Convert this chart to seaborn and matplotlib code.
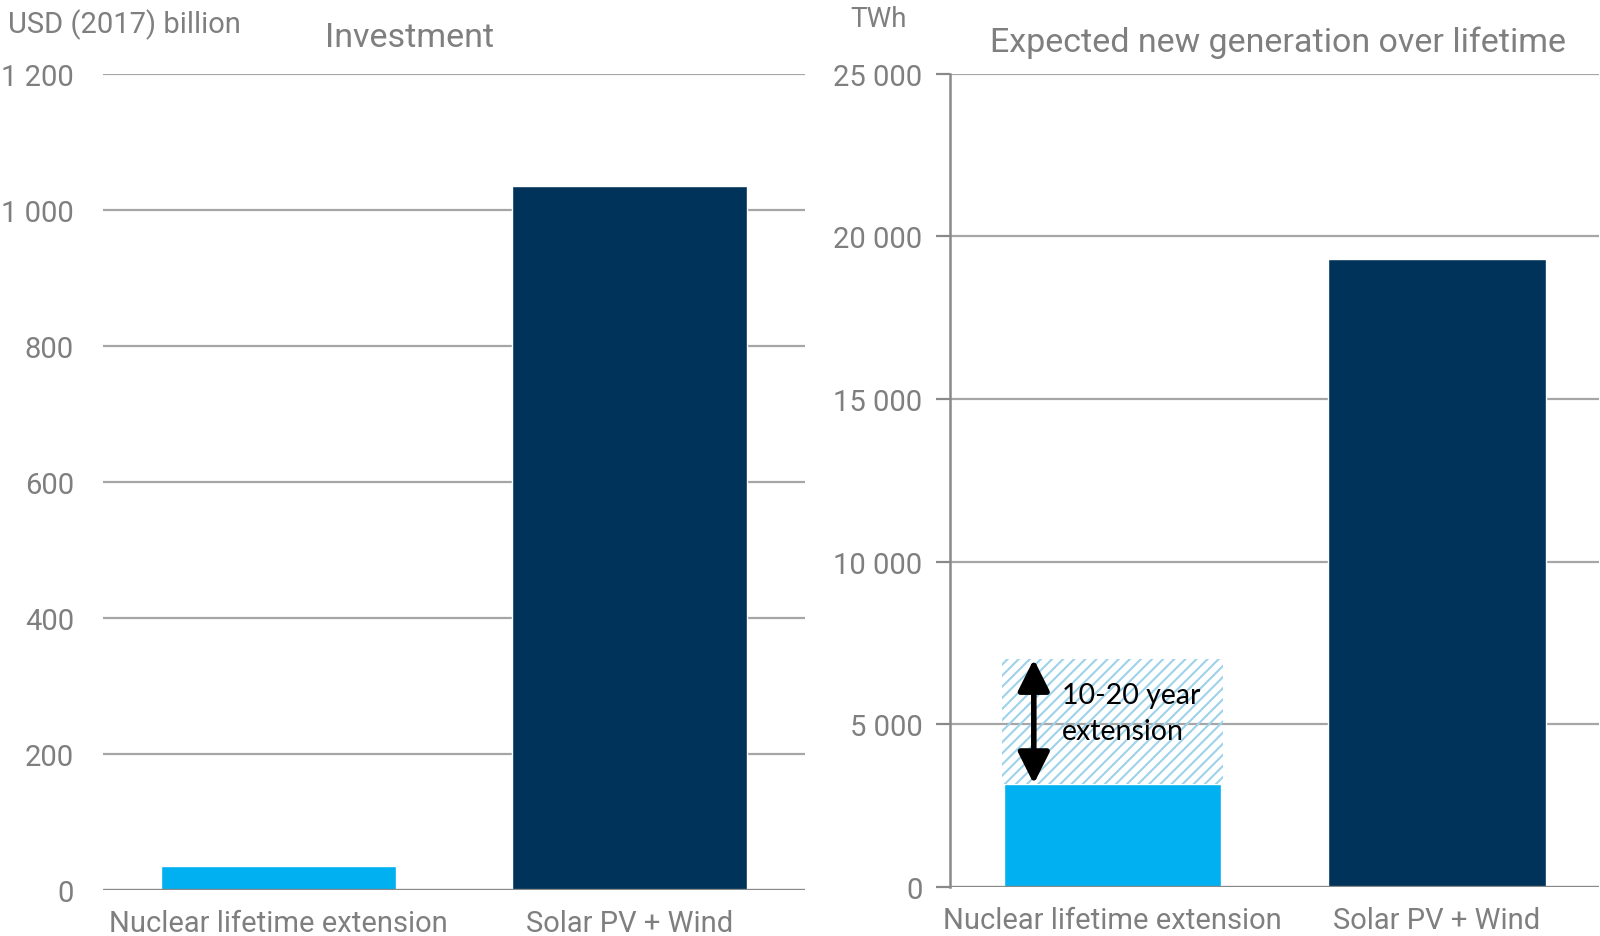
import matplotlib
matplotlib.use("Agg")
import matplotlib.pyplot as plt
import seaborn as sns
import pandas as pd
from matplotlib import font_manager

# --- data -------------------------------------------------------------
categories = ["Nuclear lifetime extension", "Solar PV + Wind"]
investment = [35, 1035]            # USD (2017) billion
generation = [3170, 19300]         # TWh, expected new generation over lifetime
extension_top = 7000               # TWh, upper end of a 10-20 year nuclear extension

inv_ticks = [0, 200, 400, 600, 800, 1000, 1200]
inv_tick_labels = ["0", "200", "400", "600", "800", "1 000", "1 200"]
gen_ticks = [0, 5000, 10000, 15000, 20000, 25000]
gen_tick_labels = ["0", "5 000", "10 000", "15 000", "20 000", "25 000"]

bar_colors = ["#00B0F0", "#003359"]
hatch_color = "#9DD2EA"
text_gray = "#7F7F7F"
grid_gray = "#A6A6A6"
axis_gray = "#898989"

sns.set_theme(style="white")
installed = {f.name for f in font_manager.fontManager.ttflist}
narrow = "Liberation Sans Narrow" if "Liberation Sans Narrow" in installed else "Roboto"
plt.rcParams["font.family"] = [narrow, "DejaVu Sans"]
plt.rcParams["hatch.linewidth"] = 1.5
plt.rcParams["hatch.color"] = hatch_color

fig = plt.figure(figsize=(16, 9.37), dpi=100)
ax1 = fig.add_axes([0.0644, 0.0491, 0.439, 0.871])
ax2 = fig.add_axes([0.594, 0.0523, 0.4056, 0.868])

df_inv = pd.DataFrame({"cat": categories, "val": investment})
df_gen = pd.DataFrame({"cat": categories, "val": generation})


def style_axis(ax, ticks, labels, ymax, show_spine, pad):
    ax.set_ylim(0, ymax)
    ax.set_xlim(-0.5, 1.5)
    ax.set_yticks(ticks)
    ax.set_yticklabels(labels)
    for t in ticks[1:]:
        ax.axhline(t, color=grid_gray, lw=1.6, zorder=0)
    ax.axhline(0, color=axis_gray, lw=2.4, zorder=3)
    for s in ["top", "right", "bottom"]:
        ax.spines[s].set_visible(False)
    ax.spines["left"].set_visible(show_spine)
    ax.spines["left"].set_color(axis_gray)
    ax.spines["left"].set_linewidth(1.8)
    ax.tick_params(axis="y", labelsize=21, colors=axis_gray, labelcolor=text_gray, pad=pad,
                   length=10 if show_spine else 0, width=1.6, left=True, direction="out")
    ax.tick_params(axis="x", labelsize=21, labelcolor=text_gray, length=0, pad=14)
    ax.set_xlabel("")
    ax.set_ylabel("")


# --- investment panel -------------------------------------------------
sns.barplot(data=df_inv, x="cat", y="val", hue="cat", palette=bar_colors,
            width=0.67, saturation=1, legend=False, ax=ax1, zorder=2)
style_axis(ax1, inv_ticks, inv_tick_labels, 1200, False, 21)
ax1.text(-0.135, 1.061, "USD (2017) billion", transform=ax1.transAxes,
         fontsize=21, color=text_gray, ha="left", va="center")
ax1.set_title("Investment", fontsize=24.5, color=text_gray, pad=20, x=0.437)

# --- generation panel -------------------------------------------------
sns.barplot(data=df_gen, x="cat", y="val", hue="cat", palette=bar_colors,
            width=0.67, saturation=1, legend=False, ax=ax2, zorder=2)
style_axis(ax2, gen_ticks, gen_tick_labels, 25000, True, 10)

nuc = categories.index("Nuclear lifetime extension")
ax2.bar(nuc, extension_top - generation[nuc], bottom=generation[nuc], width=0.68,
        facecolor="none", edgecolor=hatch_color, hatch="///", linewidth=0, zorder=2)
ax2.annotate("", xy=(nuc - 0.243, extension_top), xytext=(nuc - 0.243, generation[nuc]),
             arrowprops=dict(arrowstyle="<|-|>,head_length=1.6,head_width=0.8",
                             color="black", lw=4, shrinkA=0, shrinkB=0), zorder=5)
ax2.text(nuc - 0.155, 5348, "10-20 year\nextension", fontsize=20.5, color="black",
         family=["Lato", "DejaVu Sans"], ha="left", va="center", linespacing=1.45, zorder=5)

ax2.text(-0.110, 1.068, "TWh", transform=ax2.transAxes,
         fontsize=20, color=text_gray, ha="center", va="center")
ax2.set_title("Expected new generation over lifetime", fontsize=24.5, color=text_gray,
              pad=16, x=0.505)

fig.savefig("out.png", dpi=100)
